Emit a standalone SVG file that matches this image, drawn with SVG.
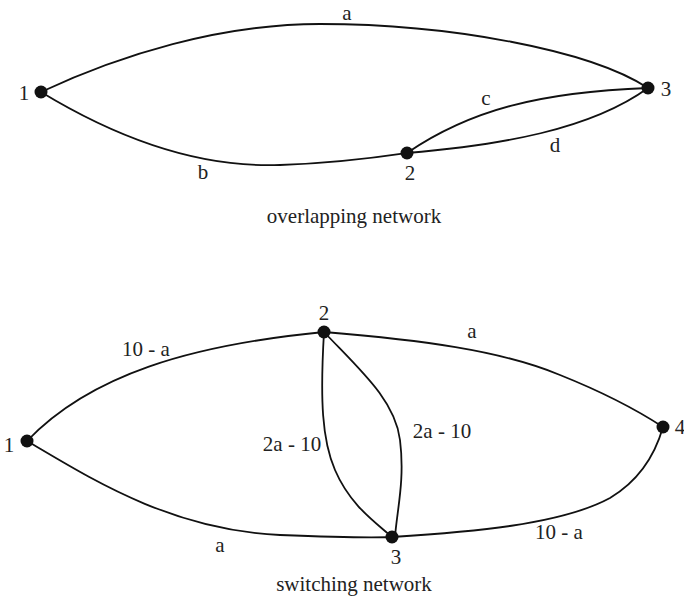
<svg xmlns="http://www.w3.org/2000/svg" width="684" height="600" viewBox="0 0 684 600">
<style>
.e{fill:none;stroke:#111;stroke-width:1.8}
.n{fill:#111}
text{font-family:"Liberation Serif","Times New Roman",serif;font-size:21px;fill:#222}
.m{text-anchor:middle}
</style>
<rect width="684" height="600" fill="#fff"/>
<g id="edges-top">
<path class="e" d="M41,92 C120,55 220,24 320,24 C450,24 590,50 648,88"/>
<path class="e" d="M41,92 C120,140 200,168 280,165 C340,163 380,157 407,153"/>
<path class="e" d="M407,153 C470,110 540,92 648,88"/>
<path class="e" d="M407,153 C500,145 590,130 648,88"/>
</g>
<g id="top-labels">
<text class="m" x="347" y="20">a</text>
<text class="m" x="203" y="179">b</text>
<text class="m" x="486" y="105">c</text>
<text class="m" x="555" y="152">d</text>
<text class="m" x="354" y="223">overlapping network</text>
</g>
<g id="t1"><circle class="n" cx="41" cy="92" r="6.5"/><text class="m" x="24" y="100">1</text></g>
<g id="t2"><circle class="n" cx="407" cy="153" r="6.5"/><text class="m" x="410" y="180">2</text></g>
<g id="t3"><circle class="n" cx="648" cy="88" r="6.5"/><text class="m" x="666" y="96">3</text></g>

<g id="edges-bottom">
<path class="e" d="M27,441 C90,375 190,345 324,332"/>
<path class="e" d="M324,332 C420,340 500,350 560,375 C610,395 640,412 663,427"/>
<path class="e" d="M27,441 C90,478 170,530 280,535 C330,537 370,538 392,537"/>
<path class="e" d="M392,537 C470,532 560,525 610,498 C640,480 655,455 663,427"/>
<path class="e" d="M324,332 C320,400 322,440 335,470 C350,505 375,522 392,537"/>
<path class="e" d="M324,332 C360,370 395,400 400,440 C405,480 397,510 395,537"/>
</g>
<g id="bottom-labels">
<text class="m" x="146" y="356">10 - a</text>
<text class="m" x="472" y="338">a</text>
<text class="m" x="292" y="451">2a - 10</text>
<text class="m" x="442" y="438">2a - 10</text>
<text class="m" x="220" y="552">a</text>
<text class="m" x="559" y="539">10 - a</text>
<text class="m" x="354" y="591">switching network</text>
</g>
<g id="b1"><circle class="n" cx="27" cy="441" r="6.5"/><text class="m" x="9" y="452">1</text></g>
<g id="b2"><circle class="n" cx="324" cy="332" r="6.5"/><text class="m" x="324" y="320">2</text></g>
<g id="b3"><circle class="n" cx="392" cy="537" r="6.5"/><text class="m" x="396" y="564">3</text></g>
<g id="b4"><circle class="n" cx="663" cy="427" r="6.5"/><text class="m" x="680" y="434">4</text></g>
</svg>
